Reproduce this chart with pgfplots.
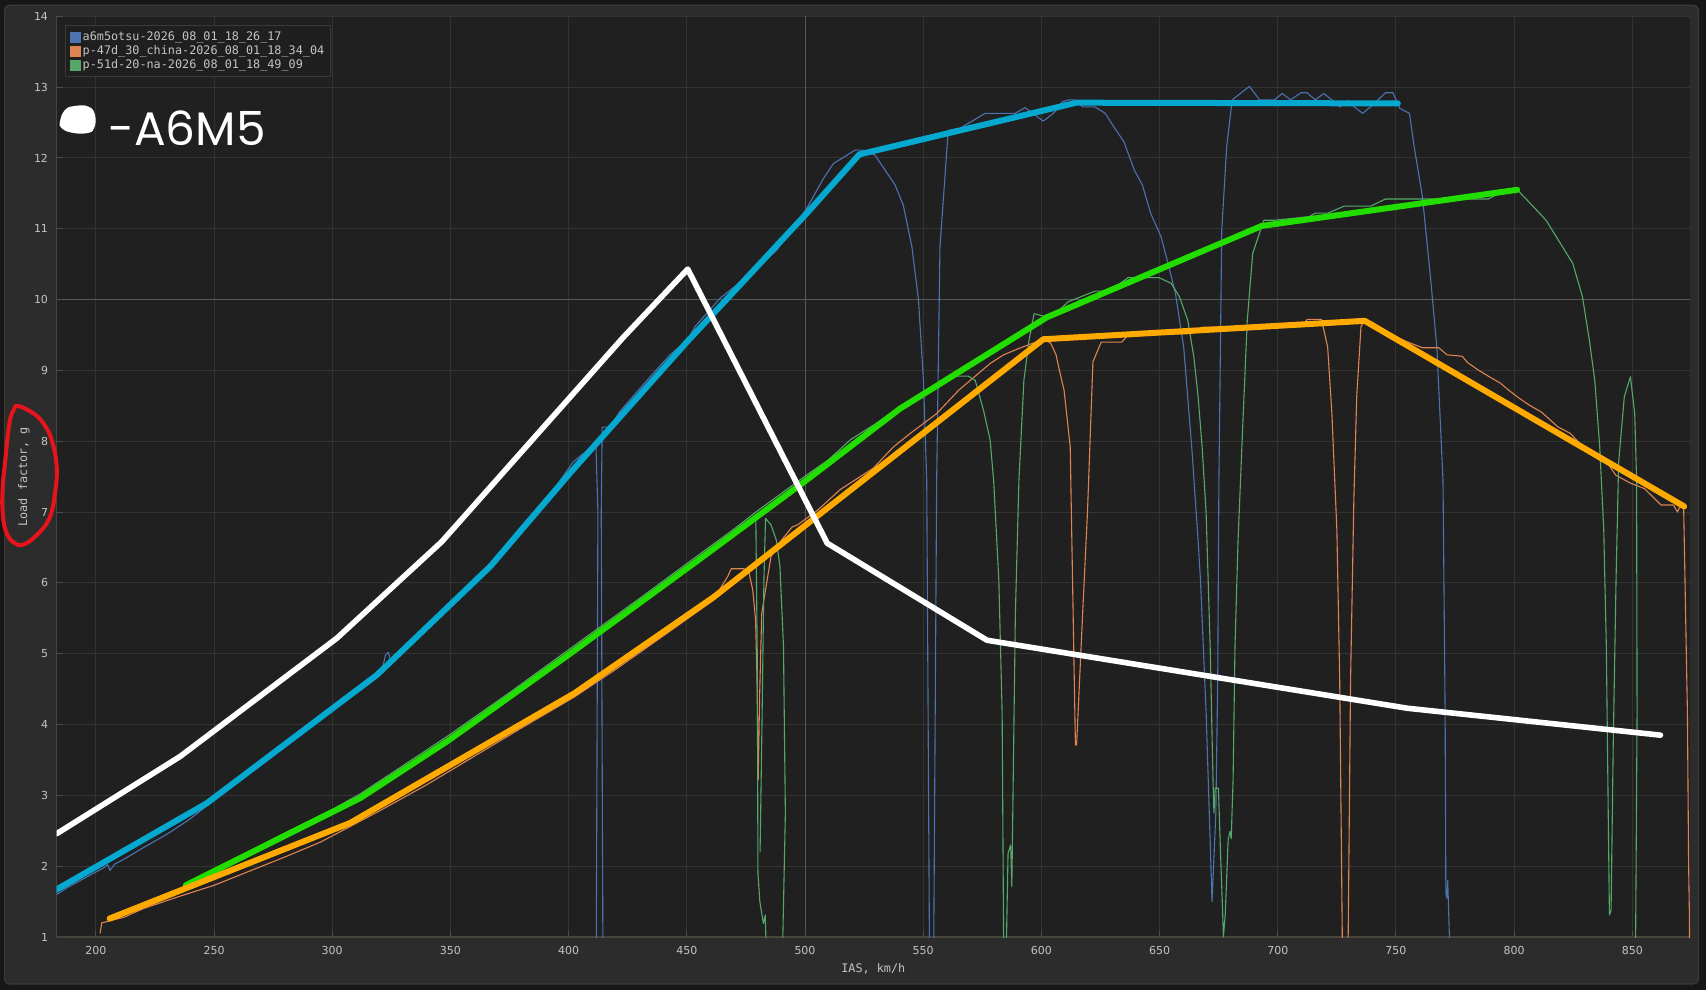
\documentclass[border=0pt]{standalone}
\usepackage{pgfplots}
\pgfplotsset{compat=1.18}
\usepackage{fontspec}
\setmainfont{DejaVu Sans}
\newfontfamily\monof{DejaVu Sans Mono}
\newfontfamily\handf{Poppins}
\definecolor{outerbg}{HTML}{171717}
\definecolor{panelbg}{HTML}{2B2C2B}
\definecolor{panelborder}{HTML}{3C3C34}
\definecolor{plotbg}{HTML}{202020}
\definecolor{gridc}{HTML}{333333}
\definecolor{brightgrid}{HTML}{585858}
\definecolor{axisc}{HTML}{45453B}
\definecolor{tickc}{HTML}{4E4E4E}
\definecolor{labelc}{HTML}{C4C4C4}
\definecolor{legbg}{HTML}{1F1F1F}
\definecolor{legborder}{HTML}{3B3B33}
\definecolor{bthin}{HTML}{4C72B0}
\definecolor{othin}{HTML}{DD8452}
\definecolor{gthin}{HTML}{55A868}
\definecolor{cyanthick}{HTML}{05A8CF}
\definecolor{greenthick}{HTML}{22DD00}
\definecolor{orangethick}{HTML}{FFAA00}
\definecolor{redc}{HTML}{E8141C}
\begin{document}
\begin{tikzpicture}
\fill[outerbg] (0,0) rectangle (853pt,495pt);
\filldraw[fill=panelbg, draw=panelborder, line width=0.6pt, rounded corners=2.5pt] (2.3pt,3pt) rectangle (849.2pt,492.4pt);
\begin{axis}[
  at={(28.3pt,26.5pt)}, anchor=south west,
  scale only axis, width=816.7pt, height=460.35pt,
  xmin=183.4, xmax=874.4, ymin=1, ymax=14,
  xtick={200,250,...,850}, ytick={1,2,...,14},
  axis background/.style={fill=plotbg},
  axis x line*=bottom, axis y line*=left,
  axis line style={draw=axisc, line width=0.6pt},
  grid=major, major grid style={draw=gridc, line width=0.5pt},
  tick align=inside, major tick length=3pt,
  tick style={draw=tickc, line width=0.5pt},
  /pgf/number format/assume math mode=true,
  tick label style={font=\fontsize{5.5}{6}\selectfont, text=labelc},
  xticklabel style={anchor=north, inner sep=0pt, yshift=-4.5pt},
  yticklabel style={anchor=east, inner sep=0pt, xshift=-4.1pt},
  xlabel={IAS, km/h}, ylabel={Load factor, g},
  label style={font=\monof\fontsize{5.9}{7}\selectfont, text=labelc},
  xlabel style={at={(axis description cs:0.5,-0.0344)}, anchor=center},
  ylabel style={at={(axis description cs:-0.01996,0.5)}, anchor=center},
  extra x ticks={500}, extra y ticks={10},
  extra x tick labels={}, extra y tick labels={},
  extra tick style={major grid style={draw=brightgrid, line width=0.5pt}},
  legend style={at={(axis description cs:0.00533,0.99022)}, anchor=north west,
     fill=legbg, draw=legborder, line width=0.5pt, text=labelc,
     font=\monof\fontsize{5.9}{7}\selectfont, inner sep=2.3pt,
     row sep=0pt, nodes={inner sep=0.6pt, text height=4.6pt, text depth=1.2pt}},
  legend cell align=left,
  legend image code/.code={\fill[#1] (0pt,-2.5pt) rectangle (5pt,2.5pt);},
]
% thin: a6m5otsu
\addplot[color=bthin, line width=0.55pt, line join=round] coordinates {
(183.4,1.60)(188,1.70)(193,1.79)(199,1.90)(203,1.97)(205,2.02)(206,1.94)(208,2.03)(212,2.10)(220,2.26)(230,2.45)(240,2.67)(248,2.88)(260,3.18)(275,3.57)(290,3.95)(303,4.34)(312,4.55)(318,4.69)(321,4.75)(322.5,4.98)(323.8,5.02)(325,4.85)(335,5.22)(350,5.73)(367,6.28)(380,6.80)(395,7.38)(402,7.71)(409,7.90)(411.6,7.90)(412.4,7.0)(411.6,0)(414.6,0)(413.8,7.0)(414.2,8.2)(417.5,8.2)(421.7,8.42)(434.5,8.91)(442.9,9.22)(450.4,9.43)(453.5,9.62)(464.1,10.02)(475.4,10.32)(488.1,10.70)(500.8,11.29)(507.8,11.71)(512,11.92)(521.2,12.11)(524.7,12.11)(529.6,12.04)(538.1,11.62)(541.6,11.33)(545.2,10.75)(548,10.0)(550.1,8.86)(551.5,7.45)(552.8,0)(554.3,0)(555.7,7.45)(557.1,10.75)(560.6,12.39)(565.6,12.42)(571.2,12.53)(576.2,12.63)(588.9,12.63)(593.1,12.71)(600.8,12.52)(605.1,12.63)(608.8,12.79)(611.4,12.82)(614,12.82)(617.5,12.72)(622.7,12.72)(627,12.63)(630.6,12.44)(634.9,12.23)(639.3,11.83)(642.7,11.62)(646.2,11.22)(650.6,10.89)(653.2,10.56)(656.7,10.09)(660.2,9.33)(663.6,7.92)(666.3,6.6)(667.3,6.04)(669.7,4.16)(672.2,1.50)(673.8,2.75)(674.6,4.63)(675.1,7.45)(676.3,10.98)(678.4,12.16)(680.7,12.82)(688,13.01)(692.3,12.82)(698.5,12.82)(701.9,12.91)(705.4,12.82)(709.8,12.92)(712.4,12.92)(715.9,12.82)(719.4,12.91)(722.9,12.82)(726.4,12.72)(729.3,12.81)(732.4,12.72)(735.9,12.63)(740.3,12.75)(745.5,12.92)(748.7,12.92)(751.6,12.70)(755.7,12.63)(757.7,12.16)(761.2,11.45)(764.7,10.28)(767.3,9.33)(769.9,7.45)(770.8,4.16)(771.1,1.62)(771.5,1.55)(771.9,1.8)(772.7,0.9)(773.2,0)
};
\addlegendentry{a6m5otsu-2026\_08\_01\_18\_26\_17}
% thin: p-47d
\addplot[color=othin, line width=0.55pt, line join=round] coordinates {
(201.8,1.05)(202.5,1.2)(205,1.22)(212,1.28)(220,1.40)(235,1.57)(250,1.73)(265,1.93)(280,2.13)(295,2.34)(307,2.55)(320,2.78)(340,3.15)(360,3.55)(380,3.95)(402,4.38)(420,4.78)(440,5.25)(461,5.75)(467.3,6.09)(468.8,6.2)(474.1,6.2)(476.4,6.13)(477.9,5.90)(479.1,5.48)(479.7,4.63)(480.2,3.22)(480.8,4.4)(481.7,5.57)(483.3,5.9)(485.6,6.37)(490,6.6)(494.6,6.79)(496.9,6.82)(505.1,7.02)(515,7.32)(528.9,7.62)(537.4,7.92)(544.5,8.11)(555.7,8.39)(565,8.72)(578.4,9.10)(584,9.22)(590.5,9.31)(597.7,9.40)(601.9,9.43)(604,9.38)(606.2,9.22)(607.9,8.96)(609.6,8.72)(612.2,7.92)(614.4,3.71)(614.9,3.71)(617.5,5.6)(619.5,7.0)(621.8,9.12)(625.3,9.40)(634,9.40)(636.7,9.50)(663.6,9.52)(668,9.61)(710.7,9.62)(712.4,9.72)(718.5,9.72)(721.1,9.33)(722.9,8.39)(725,6.75)(726.2,4.63)(727.6,0)(729.5,0)(730.8,4.63)(732.2,7.2)(733.4,8.63)(735.2,9.62)(736.8,9.70)(740,9.68)(747.3,9.52)(754.3,9.41)(761.2,9.32)(768.1,9.32)(771.6,9.22)(778,9.2)(780.3,9.11)(784.6,9.01)(789,8.92)(794.2,8.82)(797.7,8.72)(802,8.61)(806.4,8.51)(811.6,8.41)(818.6,8.20)(823.8,8.11)(829.1,7.92)(834.3,7.78)(839.5,7.69)(843,7.52)(849.1,7.41)(855.2,7.33)(862.1,7.10)(867.4,7.10)(869.1,7.00)(870,7.07)(871.7,7.07)(873.3,4.16)(873.8,2.04)(874.1,1.38)(874.4,0)
};
\addlegendentry{p-47d\_30\_china-2026\_08\_01\_18\_34\_04}
% thin: p-51d
\addplot[color=gthin, line width=0.55pt, line join=round] coordinates {
(236,1.66)(241,1.80)(260,2.12)(280,2.47)(300,2.80)(311.8,3.02)(330,3.42)(348.5,3.83)(375,4.45)(400.6,5.07)(430,5.78)(454,6.37)(470,6.76)(480,7.02)(500.6,7.52)(510,7.74)(519.2,8.02)(530,8.25)(537.4,8.42)(550,8.70)(563.5,8.92)(569.1,8.92)(572,8.86)(575.5,8.44)(578.3,8.02)(579.8,7.45)(582,6.04)(583.4,4.16)(584.2,0)(584.7,0)(585.9,2.18)(587,2.3)(587.5,1.71)(587.9,2.75)(589,5.57)(590.5,7.45)(592.6,8.86)(594.8,9.43)(596.9,9.80)(601.8,9.76)(607.5,9.85)(611.4,9.97)(616.7,10.04)(622.7,10.12)(628.8,10.12)(636.7,10.31)(649.7,10.31)(654.9,10.23)(658.4,10.04)(661.9,9.71)(664.5,9.19)(666.3,8.63)(668,7.92)(669.7,6.98)(671.4,5.10)(672.6,3.22)(673,2.75)(673.5,3.10)(674.9,3.10)(675.7,2.27)(676.7,1.33)(677,1.0)(677.8,1.33)(679,2.37)(679.8,2.49)(680.3,2.39)(681.1,3.22)(681.9,5.10)(683.2,6.6)(685.4,8.39)(687.1,9.71)(689.4,10.65)(693.2,11.03)(694.1,11.12)(698.5,11.12)(713.3,11.17)(715.9,11.22)(721.1,11.22)(728.1,11.32)(739.4,11.32)(745.5,11.42)(789.1,11.42)(792.5,11.48)(801.3,11.55)(808.2,11.31)(813.5,11.12)(818.7,10.84)(824.8,10.51)(828.9,10.04)(831.8,9.43)(834.1,8.86)(836.2,7.92)(837.9,6.75)(839,5.10)(839.8,2.75)(840.3,1.31)(841,1.38)(841.9,3.69)(843.1,6.04)(844.2,7.7)(846.6,8.63)(849.2,8.91)(851,8.39)(851.8,7.45)(852,4.16)(851.2,0)
};
\addlegendentry{p-51d-20-na-2026\_08\_01\_18\_49\_09}
\addplot[color=gthin, line width=0.55pt, line join=round, forget plot] coordinates {
(470,6.72)(476,6.86)(479.2,6.91)(479.8,5.0)(480.1,1.9)(480.9,1.5)(482.4,1.19)(483.2,1.31)(484.2,0)(490,0)(491.7,2.75)(490.9,5.1)(489.4,6.23)(487.9,6.6)(485.6,6.82)(483.3,6.91)(482.6,6.0)(481.8,4.0)(481.0,2.2)
};
% thick overlays
\addplot[color=cyanthick, line width=3pt, line join=round, line cap=round, forget plot] coordinates {
(182.8,1.66)(247,2.89)(318.9,4.70)(366.8,6.23)(400.6,7.55)(450,9.40)(500.8,11.22)(523,12.05)(614.8,12.78)(750.8,12.77)
};
\addplot[color=greenthick, line width=3pt, line join=round, line cap=round, forget plot] coordinates {
(238,1.73)(241,1.78)(311.8,2.96)(348.5,3.76)(400.6,5.0)(454,6.3)(500.6,7.45)(540.2,8.46)(602.3,9.75)(693.2,11.04)(801.3,11.55)
};
\addplot[color=orangethick, line width=3pt, line join=round, line cap=round, forget plot] coordinates {
(205.8,1.26)(307.6,2.61)(402.4,4.44)(461.4,5.80)(600.8,9.44)(736.8,9.70)(871.9,7.08)
};
\addplot[color=white, line width=2.8pt, line join=round, line cap=round, forget plot] coordinates {
(183.5,2.46)(235.7,3.55)(302,5.22)(346.3,6.58)(423.2,9.47)(450.4,10.43)(509.4,6.56)(577,5.19)(754.8,4.23)(861.9,3.85)
};
\end{axis}
% hand-drawn annotations
\fill[white, x=1pt, y=1pt] plot[smooth cycle, tension=0.8] coordinates {(30,434.2)(32.5,440)(37.5,442)(44.2,441.7)(47.5,437.5)(47,430.9)(43.3,428.4)(35.8,428.7)(30.8,430.9)};
\node[anchor=base west, inner sep=0pt, text=white, font=\handf\fontsize{23.5}{24}\selectfont] at (54pt,422pt) {-A6M5};
\draw[redc, x=1pt, y=1pt, line width=2pt, line cap=round, line join=round] plot[smooth cycle, tension=0.7] coordinates {(9.15,292)(16.65,288.35)(21.65,283.35)(25.85,275)(28.35,261.65)(27.5,248.35)(25,236.65)(20,229.15)(12.5,223)(7.5,223.35)(3.35,228.35)(1.35,238.35)(1.35,251.65)(2.5,263.35)(3.65,275)(5,285)(7,290.35)};
\pgfresetboundingbox
\useasboundingbox (0,0) rectangle (853pt,495pt);
\end{tikzpicture}
\end{document}
